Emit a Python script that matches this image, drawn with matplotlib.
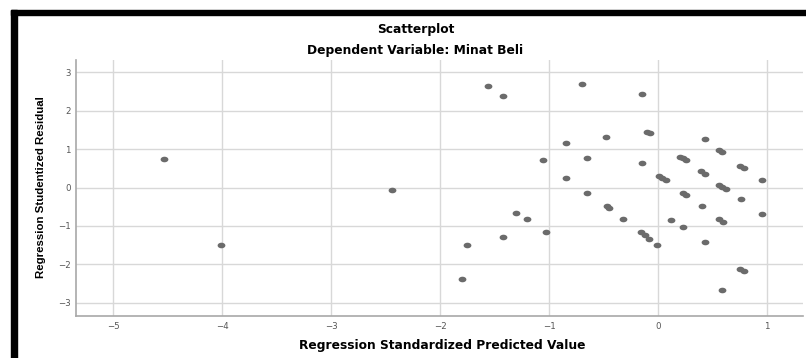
import numpy as np
import matplotlib.pyplot as plt
from matplotlib.path import Path
from matplotlib.patches import Rectangle

# values
pred = [-4.53, -4.01, -2.44, -1.56, -1.42, -0.70, -0.15, -0.10, -0.07, -0.84,
        -0.48, 0.43, 0.56, 0.59, -1.06, -0.65, -0.15, 0.20, 0.23, 0.26,
        0.39, 0.43, 0.75, 0.79, 0.01, 0.04, 0.07, -0.84, 0.95, 0.56,
        0.59, 0.62, -0.65, 0.23, 0.26, -0.47, -0.45, 0.76, 0.40, -0.32,
        0.12, 0.56, 0.60, 0.95, -1.30, -1.20, -1.03, -1.42, -1.75, -0.16,
        -0.12, -0.08, -0.01, 0.23, 0.43, -1.80, 0.75, 0.79, 0.59]
resid = [0.75, -1.50, -0.07, 2.64, 2.38, 2.70, 2.44, 1.44, 1.41, 1.16,
         1.31, 1.26, 0.97, 0.92, 0.71, 0.77, 0.64, 0.80, 0.76, 0.71,
         0.42, 0.35, 0.57, 0.52, 0.30, 0.25, 0.19, 0.26, 0.19, 0.06,
         0.01, -0.04, -0.13, -0.14, -0.20, -0.48, -0.54, -0.31, -0.48, -0.81,
         -0.84, -0.82, -0.89, -0.70, -0.66, -0.81, -1.15, -1.28, -1.50, -1.15,
         -1.24, -1.33, -1.49, -1.04, -1.43, -2.39, -2.12, -2.17, -2.66]
xticks = [-5, -4, -3, -2, -1, 0, 1]
yticks = [-3, -2, -1, 0, 1, 2, 3]

plt.rcParams['font.family'] = ['DejaVu Sans']

fig = plt.figure(figsize=(8.06, 3.58), dpi=100)
ax = fig.add_axes([0.0943, 0.1187, 0.902, 0.715])

# slightly flattened dot, like the spss output
t = np.linspace(0, 2 * np.pi, 40)
ell = Path(np.column_stack([np.cos(t), 0.72 * np.sin(t)]), closed=True)

ax.plot(pred, resid, linestyle='none', marker=ell, markersize=5.6,
        color='#6b6b6b', markeredgewidth=0, zorder=3)

ax.set_xlim(-5.34, 1.33)
ax.set_ylim(-3.33, 3.33)
ax.set_xticks(xticks)
ax.set_yticks(yticks)
ax.tick_params(length=0, labelsize=6.2, labelcolor='#555555')
ax.tick_params(axis='x', pad=5)
ax.tick_params(axis='y', pad=4)
ax.grid(True, color='#d8d8d8', linewidth=1)
ax.set_axisbelow(True)
for s in ['top', 'right']:
    ax.spines[s].set_visible(False)
for s in ['left', 'bottom']:
    ax.spines[s].set_color('#a8a8a8')
    ax.spines[s].set_linewidth(1.2)

fig.text(415.5 / 806, 1 - 30 / 358, 'Scatterplot', ha='center', va='center',
         fontsize=8.8, fontweight='bold')
fig.text(415.5 / 806, 1 - 50.5 / 358, 'Dependent Variable: Minat Beli',
         ha='center', va='center', fontsize=8.8, fontweight='bold')
fig.text(442 / 806, 1 - 345 / 358, 'Regression Standardized Predicted Value',
         ha='center', va='center', fontsize=8.8, fontweight='bold')
fig.text(41 / 806, 1 - 187.5 / 358, 'Regression Studentized Residual',
         ha='center', va='center', rotation=90, fontsize=8.2,
         fontweight='bold', family=['Liberation Sans', 'DejaVu Sans'])

# black frame of the screenshot
fig.patches.append(Rectangle((11 / 806, 0), 6 / 806, 1 - 10 / 358,
                             transform=fig.transFigure, color='black'))
fig.patches.append(Rectangle((11 / 806, 1 - 15 / 358), 1, 5 / 358,
                             transform=fig.transFigure, color='black'))

fig.savefig('out.png', dpi=100)
